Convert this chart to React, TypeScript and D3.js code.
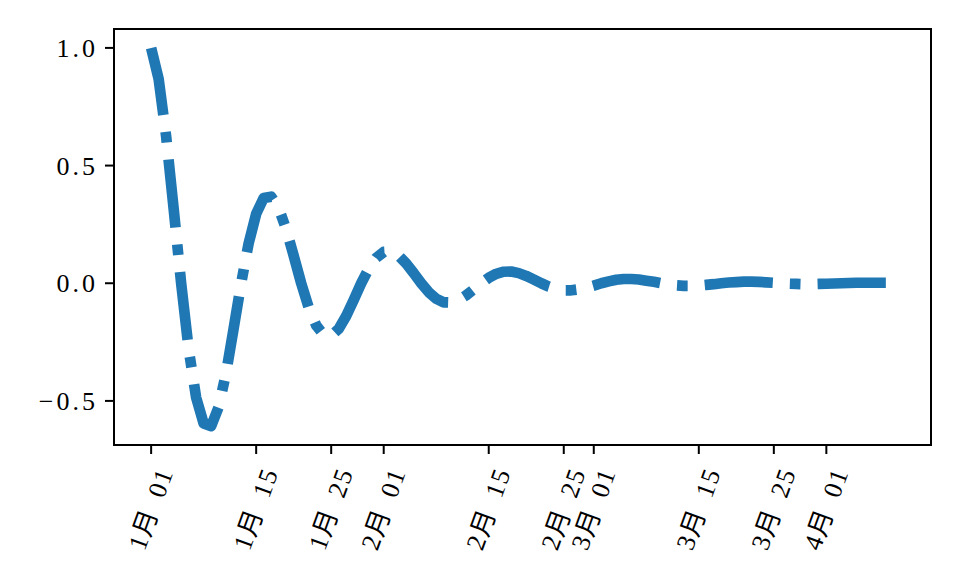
import * as d3 from "d3";

// day offsets from Jan 1 (non-leap year), one reading per day
const values = [
  1.0, 0.868, 0.624, 0.317, 0.0, -0.28, -0.486, -0.596, -0.607, -0.526,
  -0.379, -0.192, 0.0, 0.17, 0.295, 0.362, 0.368, 0.319, 0.23, 0.117,
  0.0, -0.103, -0.179, -0.219, -0.223, -0.194, -0.139, -0.071, 0.0, 0.062,
  0.108, 0.133, 0.135, 0.117, 0.084, 0.043, 0.0, -0.038, -0.066, -0.081,
  -0.082, -0.071, -0.051, -0.026, 0.0, 0.023, 0.04, 0.049, 0.05, 0.043,
  0.031, 0.016, 0.0, -0.014, -0.024, -0.03, -0.03, -0.026, -0.019, -0.01,
  0.0, 0.008, 0.015, 0.018, 0.018, 0.016, 0.011, 0.006, 0.0, -0.005,
  -0.009, -0.011, -0.011, -0.01, -0.007, -0.004, 0.0, 0.003, 0.005, 0.007,
  0.007, 0.006, 0.004, 0.002, 0.0, -0.002, -0.003, -0.004, -0.004, -0.003,
  -0.002, -0.001, 0.0, 0.001, 0.002, 0.002, 0.002, 0.002, 0.002, 0.001,
];

const xTickDates = [
  "2019-01-01", "2019-01-15", "2019-01-25", "2019-02-01", "2019-02-15",
  "2019-02-25", "2019-03-01", "2019-03-15", "2019-03-25", "2019-04-01",
];
const yTicks = [-0.5, 0.0, 0.5, 1.0];

const startDate = new Date(Date.UTC(2019, 0, 1));
const DAY = 86400000;

const WIDTH = 960;
const HEIGHT = 576;
const margin = { top: 29, right: 29, bottom: 131, left: 114 };
const fontStack = '"Liberation Serif", "DejaVu Serif", "Noto Sans CJK SC", serif';

export default function App() {
  const points = values.map((v, i) => ({ date: new Date(startDate.getTime() + i * DAY), value: v }));

  const [x0, x1] = d3.extent(points, d => d.date.getTime()) as [number, number];
  const xPad = (x1 - x0) * 0.05;
  const xScale = d3.scaleUtc()
    .domain([new Date(x0 - xPad), new Date(x1 + xPad)])
    .range([margin.left, WIDTH - margin.right]);

  const [y0, y1] = d3.extent(points, d => d.value) as [number, number];
  const yPad = (y1 - y0) * 0.05;
  const yScale = d3.scaleLinear()
    .domain([y0 - yPad, y1 + yPad])
    .range([HEIGHT - margin.bottom, margin.top]);

  const line = d3.line<{ date: Date; value: number }>()
    .x(d => xScale(d.date))
    .y(d => yScale(d.value));

  const fmtMonth = d3.utcFormat("%-m");
  const fmtDay = d3.utcFormat("%d");
  const bottom = HEIGHT - margin.bottom;
  const lw = 10.67;

  return (
    <svg width={WIDTH} height={HEIGHT} style={{ position: "absolute", left: 0, top: 0, background: "#fff" }}>
      <path
        d={line(points) || ""}
        fill="none"
        stroke="#1f77b4"
        strokeWidth={lw}
        strokeDasharray={`${6.4 * lw} ${1.6 * lw} ${lw} ${1.6 * lw}`}
        strokeLinejoin="round"
        strokeLinecap="butt"
      />
      <rect
        x={margin.left}
        y={margin.top}
        width={WIDTH - margin.left - margin.right}
        height={HEIGHT - margin.top - margin.bottom}
        fill="none"
        stroke="#000"
        strokeWidth={2}
      />
      {yTicks.map(t => (
        <g key={t} transform={`translate(0,${yScale(t)})`}>
          <line x1={margin.left - 9} x2={margin.left} stroke="#000" strokeWidth={2} />
          <text
            x={margin.left - 16}
            dy="0.35em"
            textAnchor="end"
            fontFamily={fontStack}
            fontSize={26}
            letterSpacing={3}
            fill="#000"
          >
            {t < 0 ? "\u2212" : ""}{Math.abs(t).toFixed(1)}
          </text>
        </g>
      ))}
      {xTickDates.map(s => {
        const d = new Date(s + "T00:00:00Z");
        const tx = xScale(d);
        return (
          <g key={s}>
            <line x1={tx} x2={tx} y1={bottom} y2={bottom + 9} stroke="#000" strokeWidth={2} />
            <text
              transform={`translate(${tx},${bottom + 64}) rotate(-70)`}
              textAnchor="middle"
              dominantBaseline="central"
              fontFamily={fontStack}
              fontSize={26}
              letterSpacing={1.5}
              wordSpacing={6}
              fill="#000"
            >
              {`${fmtMonth(d)}月 ${fmtDay(d)}`}
            </text>
          </g>
        );
      })}
    </svg>
  );
}
